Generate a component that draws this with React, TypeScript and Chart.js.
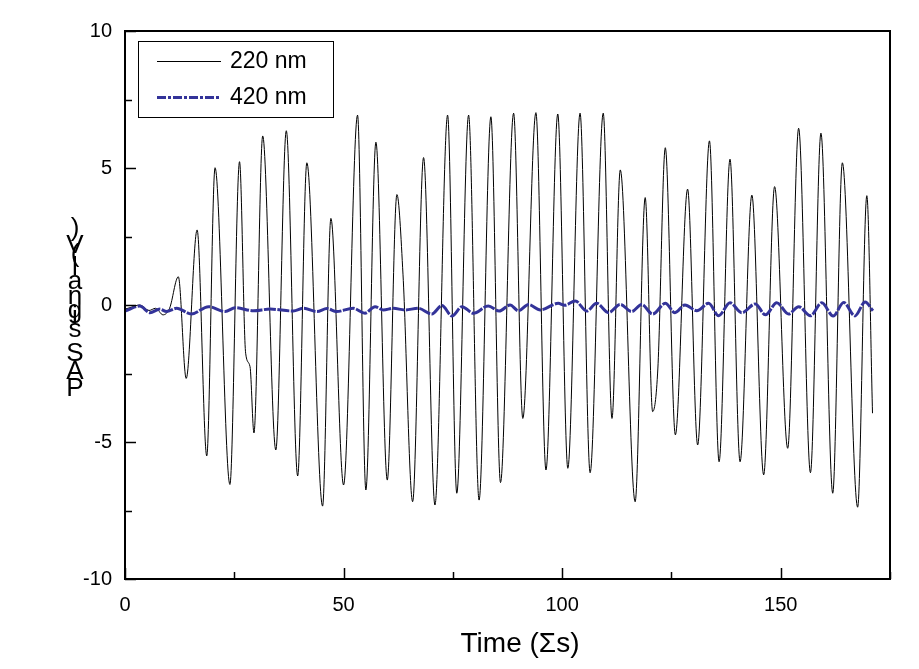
import React, { useEffect, useRef } from "react";
import { Chart, registerables } from "chart.js";
Chart.register(...registerables);

// ---- data ----
const time220 = [
  0, 1.5, 3.4, 5.5, 7, 8.7, 10.2, 12.2, 14.0, 16.5, 18.7, 20.6, 24.0, 26.2, 27.6, 28.6, 29.5,
  31.5, 34.5, 36.9, 39.5, 41.6, 45.2, 47.1, 50.0, 53.2, 55.1, 57.4, 60.0, 62.2, 63.6, 65.8,
  68.3, 70.9, 73.8, 75.9, 78.6, 81.0, 83.7, 85.9, 88.9, 91.0, 94.0, 96.3, 99.0, 101.3, 104.1,
  106.4, 109.4, 111.4, 113.3, 116.7, 119.0, 120.7, 121.9, 123.6, 125.9, 128.7, 131.0, 133.7,
  135.9, 138.4, 140.7, 143.4, 146.1, 148.6, 151.6, 154.1, 156.8, 159.2, 161.9, 164.1, 167.6,
  169.7, 171.0,
];
const signal220 = [
  -0.15, -0.08, 0.0, -0.2, -0.12, -0.36, -0.12, 1.03, -2.68, 2.74, -5.51, 5.01, -6.55, 5.23, -1.76, -2.25, -4.67,
  6.17, -5.29, 6.36, -6.24, 5.19, -7.34, 3.16, -6.57, 6.93, -6.75, 5.94, -6.39, 4.03, 1.1, -7.18,
  5.38, -7.3, 6.93, -6.87, 6.93, -7.12, 6.87, -6.48, 7.0, -4.14, 7.02, -6.02, 6.97, -5.96, 7.0,
  -6.12, 7.0, -4.14, 4.93, -7.18, 3.92, -3.89, -2.3, 5.74, -4.74, 4.23, -5.11, 5.99,
  -5.72, 5.32, -5.72, 4.01, -6.2, 4.32, -5.23, 6.45, -6.12, 6.27, -6.87, 5.19, -7.38,
  3.99, -3.95,
];
const time420 = [
  0, 3.4, 5.7, 8.0, 9.5, 11.8, 15.2, 19.1, 22.9, 25.2, 29.4, 33.2, 38.5, 40.8, 43.9, 46.2, 48.4,
  52.2, 54.9, 57.2, 59.1, 61.4, 64.0, 67.1, 70.2, 72.5, 74.8, 77.1, 79.7, 83.1, 85.6, 88.1,
  90.0, 92.3, 95.0, 99.1, 100.6, 103.0, 105.6, 107.9, 110.6, 113.3, 115.9, 118.2, 120.7, 123.6,
  125.8, 128.1, 130.8, 133.5, 135.8, 138.4, 141.1, 144.2, 146.5, 149.1, 151.8, 154.1, 156.8,
  159.4, 162.0, 164.4, 167.0, 169.3, 171.1,
];
const signal420 = [
  -0.22, -0.04, -0.28, -0.15, -0.24, -0.12, -0.33, -0.06, -0.24, -0.1, -0.21, -0.15, -0.22, -0.12, -0.24, -0.13, -0.24,
  -0.12, -0.3, -0.06, -0.18, -0.12, -0.18, -0.12, -0.33, -0.02, -0.4, -0.06, -0.3, -0.04, -0.22, 0.0,
  -0.21, 0.02, -0.18, 0.06, -0.01, 0.15, -0.22, 0.06, -0.28, 0.02, -0.24, 0.02, -0.33, 0.06,
  -0.28, 0.0, -0.21, 0.06, -0.39, 0.08, -0.28, 0.04, -0.36, 0.08, -0.33, -0.06, -0.39,
  0.08, -0.4, 0.09, -0.4, 0.11, -0.21,
];
const seriesLabels = ["220 nm", "420 nm"];
const xTickValues = [0, 50, 100, 150];
const xMinorValues = [25, 75, 125, 175];
const yTickValues = [-10, -5, 0, 5, 10];
const yMinorValues = [-7.5, -2.5, 2.5, 7.5];
const xTitle = "Time (\u03A3s)";
const yTitle = "PAS signal (V)";

const FONT = "'Liberation Sans', Arial, Helvetica, sans-serif";
const BLUE = "#333399";

const decorPlugin = {
  id: "decor",
  afterDraw(chart: any) {
    const ctx = chart.ctx;
    const area = chart.chartArea;
    const xs = chart.scales.x;
    const ys = chart.scales.y;
    ctx.save();
    // frame
    ctx.strokeStyle = "#000";
    ctx.lineWidth = 2;
    ctx.strokeRect(area.left, area.top, area.right - area.left, area.bottom - area.top);
    // inward ticks
    ctx.lineWidth = 1.5;
    const drawX = (v: number, len: number) => {
      const px = Math.round(xs.getPixelForValue(v)) + 0.5;
      ctx.beginPath();
      ctx.moveTo(px, area.bottom);
      ctx.lineTo(px, area.bottom - len);
      ctx.stroke();
    };
    const drawY = (v: number, len: number) => {
      const py = Math.round(ys.getPixelForValue(v)) + 0.5;
      ctx.beginPath();
      ctx.moveTo(area.left, py);
      ctx.lineTo(area.left + len, py);
      ctx.stroke();
    };
    xTickValues.forEach((v) => drawX(v, 11));
    xMinorValues.forEach((v) => drawX(v, 7));
    yTickValues.forEach((v) => drawY(v, 11));
    yMinorValues.forEach((v) => drawY(v, 7));

    // legend
    ctx.lineWidth = 1;
    ctx.strokeStyle = "#000";
    ctx.strokeRect(138.5, 41.5, 195, 76);
    ctx.beginPath();
    ctx.moveTo(157, 61.5);
    ctx.lineTo(221, 61.5);
    ctx.stroke();
    ctx.strokeStyle = BLUE;
    ctx.lineWidth = 3;
    ctx.setLineDash([9, 2, 3, 2]);
    ctx.beginPath();
    ctx.moveTo(157, 97.5);
    ctx.lineTo(221, 97.5);
    ctx.stroke();
    ctx.setLineDash([]);
    ctx.fillStyle = "#000";
    ctx.font = `23px ${FONT}`;
    ctx.textAlign = "left";
    ctx.textBaseline = "middle";
    ctx.fillText(seriesLabels[0], 230, 62);
    ctx.fillText(seriesLabels[1], 230, 98);

    // x title
    ctx.font = `28px ${FONT}`;
    ctx.textAlign = "center";
    ctx.textBaseline = "middle";
    ctx.fillText(xTitle, 520, 644);

    // y title: glyphs upright, stacked bottom to top
    ctx.font = `26px ${FONT}`;
    ctx.textBaseline = "alphabetic";
    ctx.textAlign = "center";
    let base = 396;
    for (const ch of yTitle) {
      ctx.fillText(ch, 75, base);
      base -= ctx.measureText(ch).width;
    }
    ctx.restore();
  },
};

export default function App() {
  const ref = useRef<HTMLCanvasElement | null>(null);
  useEffect(() => {
    document.body.style.margin = "0";
    Chart.defaults.font.family = FONT;
    const chart = new Chart(ref.current as HTMLCanvasElement, {
      type: "line",
      data: {
        datasets: [
          {
            label: seriesLabels[0],
            data: time220.map((t, i) => ({ x: t, y: signal220[i] })),
            borderColor: "#000",
            borderWidth: 1,
            pointRadius: 0,
            cubicInterpolationMode: "monotone",
            fill: false,
            order: 2,
          },
          {
            label: seriesLabels[1],
            data: time420.map((t, i) => ({ x: t, y: signal420[i] })),
            borderColor: BLUE,
            borderWidth: 3,
            borderDash: [12, 1.5],
            pointRadius: 0,
            cubicInterpolationMode: "monotone",
            fill: false,
            order: 1,
          },
        ],
      },
      options: {
        animation: false,
        responsive: true,
        maintainAspectRatio: false,
        layout: { padding: { left: 0, right: 29, top: 31, bottom: 0 } },
        plugins: { legend: { display: false }, tooltip: { enabled: false } },
        scales: {
          x: {
            type: "linear",
            min: 0,
            max: 175,
            grid: { display: false, drawTicks: false },
            border: { display: false },
            ticks: { color: "#000", font: { size: 20 }, padding: 14, maxRotation: 0 },
            afterBuildTicks: (s: any) => {
              s.ticks = xTickValues.map((v) => ({ value: v }));
            },
            afterFit: (s: any) => {
              s.height = 90;
            },
          },
          y: {
            type: "linear",
            min: -10,
            max: 10,
            grid: { display: false, drawTicks: false },
            border: { display: false },
            ticks: { color: "#000", font: { size: 20 }, padding: 13 },
            afterBuildTicks: (s: any) => {
              s.ticks = yTickValues.map((v) => ({ value: v }));
            },
            afterFit: (s: any) => {
              s.width = 125;
            },
          },
        },
      } as any,
      plugins: [decorPlugin],
    });
    return () => chart.destroy();
  }, []);
  return (
    <div style={{ position: "relative", width: 919, height: 669, background: "#fff" }}>
      <canvas ref={ref} />
    </div>
  );
}
